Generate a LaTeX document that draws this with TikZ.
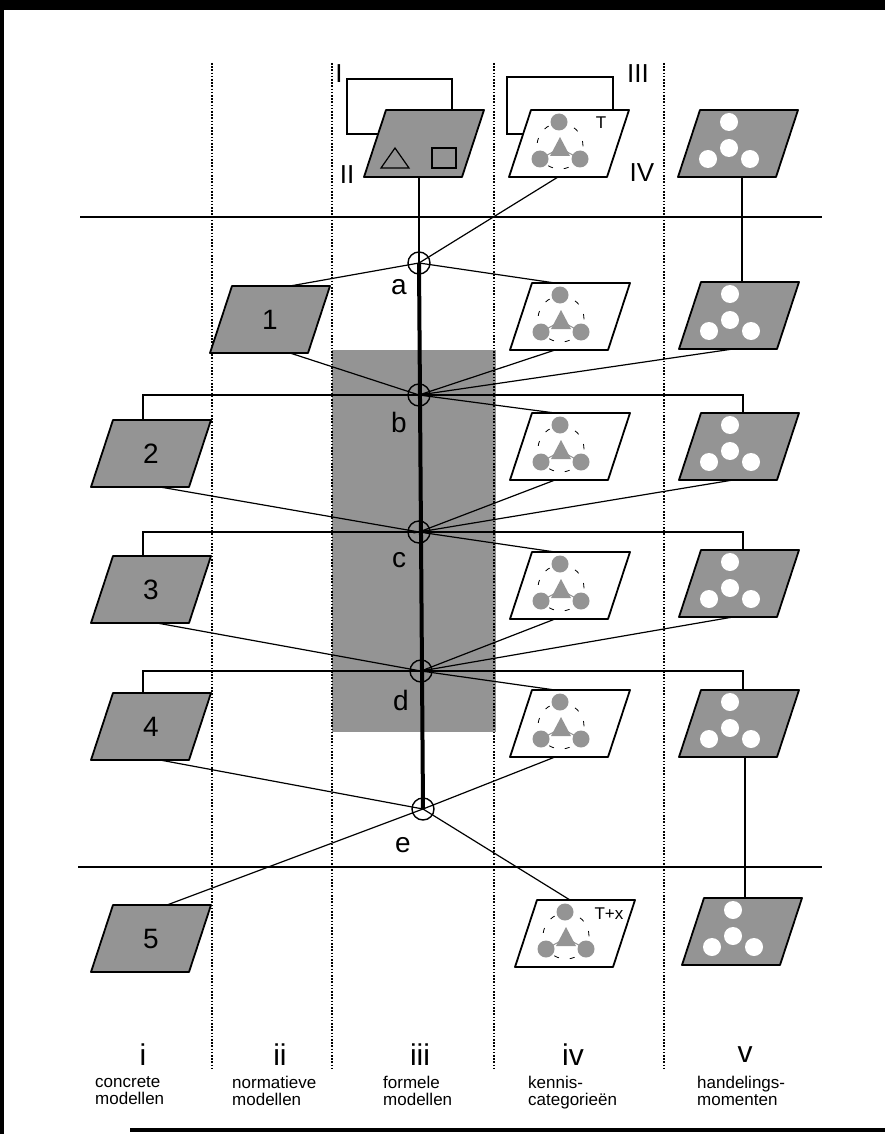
\documentclass[tikz,border=0pt]{standalone}
\usepackage{fontspec}
\setmainfont{Liberation Sans}
\usetikzlibrary{calc}

\tikzset{
  dunlijn/.style={line width=1.2pt},
  vlakrand/.style={line width=1.8pt, line join=round},
  knoop/.style={circle, draw, line width=1.4pt, minimum size=22pt, inner sep=0pt},
  kolomlijn/.style={line width=1.1pt, dash pattern=on 1.6pt off 1.6pt},
  grens/.style={line width=2.6pt},
  raster/.style={fill=black!42},
  letter/.style={font=\fontsize{28}{30}\selectfont, inner sep=0pt},
  romein/.style={font=\fontsize{26}{28}\selectfont, inner sep=0pt},
  kolom/.style={font=\fontsize{30}{32}\selectfont, inner sep=0pt},
  klein/.style={font=\fontsize{17}{17}\selectfont, inner sep=0pt},
  onder/.style={font=\fontsize{17}{17}\selectfont, align=left, anchor=north west, inner sep=0pt},
}

% plane with its top left corner in #1
\newcommand{\vlak}[2]{%
  \draw[vlakrand, fill=#2] (#1) -- ++(98,0) -- ++(-22,67) -- ++(-98,0) -- cycle;}

% knowledge categories: grey dots in a white plane
\newcommand{\kennis}[1]{%
  \draw[line width=0.8pt, dash pattern=on 5pt off 11pt] ($(#1)+(29,36)$) circle (23pt);
  \fill[raster] ($(#1)+(28,12)$) circle (8.5pt) ($(#1)+(9,49)$) circle (8.5pt) ($(#1)+(49,49)$) circle (8.5pt);
  \fill[raster] ($(#1)+(29,27)$) -- ($(#1)+(19,46)$) -- ($(#1)+(39,46)$) -- cycle;
  \draw[line width=1pt, black!42] ($(#1)+(9,49)$) -- ($(#1)+(29,38)$) -- ($(#1)+(49,49)$);}

% moments of action: white dots in a grey plane
\newcommand{\handeling}[1]{%
  \fill[white] ($(#1)+(29,12)$) circle (9pt) ($(#1)+(29,38)$) circle (9pt)
    ($(#1)+(8,49)$) circle (9pt) ($(#1)+(50,49)$) circle (9pt);}

\begin{document}
\begin{tikzpicture}[x=1pt, y=-1pt]
\useasboundingbox (0,0) rectangle (885,1134);

% frame
\fill (0,0) rectangle (885,10);
\fill (0,0) rectangle (4,1134);
\fill (130,1128) rectangle (885,1132);

% shaded block in column iii
\fill[raster] (332,350) rectangle (496,732);

% column borders
\foreach \x in {212,332,494,664}
  \draw[kolomlijn] (\x,63) -- (\x,1068);

% boundaries
\draw[grens] (80,217) -- (822,217);
\draw[grens] (78,867) -- (822,867);

% back frames I and III
\draw[dunlijn] (347,79) rectangle (452,134);
\draw[line width=2.6pt] (507,77) rectangle (613,134);

% corners of the planes
\coordinate (f0) at (386,110);
\coordinate (k0) at (531,110);
\coordinate (h0) at (700,110);
\coordinate (m1) at (232,286);
\foreach \i/\y in {2/420,3/556,4/693,5/905}
  \coordinate (m\i) at (113,\y);
\foreach \i/\y in {1/283,2/413,3/552,4/690}
  \coordinate (k\i) at (532,\y);
\coordinate (k5) at (537,900);
\foreach \i/\y in {1/282,2/413,3/550,4/690}
  \coordinate (h\i) at (701,\y);
\coordinate (h5) at (704,898);

% junctions
\foreach \n/\x/\y/\ly in {a/419/263/287, b/419/395/422, c/419/532/560, d/421/671/700, e/423/809/845}{
  \node[knoop] (\n) at (\x,\y) {};
  \node[letter] (l\n) at (\x-20,\ly) {\n};
}

% connectors
\draw[line width=4pt] (a.center) -- (e.center);
\draw[dunlijn] ($(f0)+(33,67)$) -- (a.center);
\draw[dunlijn] ($(k0)+(27,67)$) -- (a.center);
\draw[dunlijn] ($(m1)+(58,0)$) -- (a.center) -- ($(k1)+(23,0)$);
\draw[dunlijn] ($(h0)+(42,67)$) -- ($(h1)+(41,0)$);

\draw[dunlijn] ($(m1)+(58,67)$) -- (b.center) -- ($(k2)+(23,0)$);
\draw[dunlijn] ($(k1)+(23,67)$) -- (b.center) -- ($(h1)+(32,67)$);
\draw[dunlijn] ($(m2)+(30,0)$) |- (b.center) -| ($(h2)+(42,0)$);

\draw[dunlijn] ($(m2)+(47,67)$) -- (c.center) -- ($(k3)+(23,0)$);
\draw[dunlijn] ($(k2)+(23,67)$) -- (c.center) -- ($(h2)+(32,67)$);
\draw[dunlijn] ($(m3)+(30,0)$) |- (c.center) -| ($(h3)+(42,0)$);

\draw[dunlijn] ($(m3)+(44,67)$) -- (d.center) -- ($(k4)+(23,0)$);
\draw[dunlijn] ($(k3)+(23,67)$) -- (d.center) -- ($(h3)+(32,67)$);
\draw[dunlijn] ($(m4)+(30,0)$) |- (d.center) -| ($(h4)+(42,0)$);

\draw[dunlijn] ($(m4)+(47,67)$) -- (e.center) -- ($(k5)+(33,0)$);
\draw[dunlijn] ($(m5)+(54,0)$) -- (e.center) -- ($(k4)+(23,67)$);
\draw[dunlijn] ($(h4)+(44,67)$) -- ($(h5)+(41,0)$);

% planes
\vlak{f0}{black!42}
\draw[dunlijn, raster] ($(f0)+(-5,58)$) -- ($(f0)+(23,58)$) -- ($(f0)+(9,38)$) -- cycle;
\draw[dunlijn, raster] ($(f0)+(46,38)$) rectangle ($(f0)+(70,58)$);
\foreach \i in {1,...,5}{
  \vlak{m\i}{black!42}
  \node[letter] (n\i) at ($(m\i)+(38,34)$) {\i};
}
\foreach \i in {0,...,5}{
  \vlak{k\i}{white}
  \kennis{k\i}
  \vlak{h\i}{black!42}
  \handeling{h\i}
}
\node[klein] (t0) at ($(k0)+(70,13)$) {T};
\node[klein] (t5) at ($(k5)+(72,14)$) {T+x};

% roman labels of the frames
\node[romein] (r1) at (339,74) {I};
\node[romein] (r2) at (347,175) {II};
\node[romein] (r3) at (638,74) {III};
\node[romein] (r4) at (642,173) {IV};

% columns
\node[kolom] (ci) at (143,1055) {i};
\node[kolom] (cii) at (280,1055) {ii};
\node[kolom] (ciii) at (420,1055) {iii};
\node[kolom] (civ) at (573,1055) {iv};
\node[kolom] (cv) at (745,1055) {v};
\node[onder] (oi) at (95,1076) {concrete\\modellen};
\node[onder] (oii) at (232,1076) {normatieve\\modellen};
\node[onder] (oiii) at (383,1076) {formele\\modellen};
\node[onder] (oiv) at (528,1076) {kennis-\\categorieën};
\node[onder] (ov) at (697,1076) {handelings-\\momenten};

\end{tikzpicture}
\end{document}
